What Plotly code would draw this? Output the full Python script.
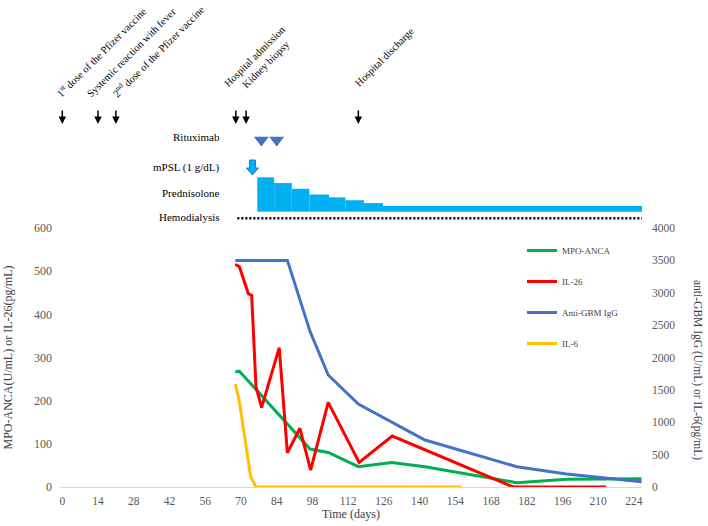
import plotly.graph_objects as go

# ---------------- data ----------------
days_mpo = [67.8, 69.4, 97.1, 104.2, 116.0, 129.1, 142.1, 178.1, 197.6, 227.0]
mpo_anca = [267, 268, 88, 80, 47, 57, 47, 10, 18, 19]

days_il26 = [67.8, 69.4, 72.9, 74.2, 75.9, 78.1, 85.0, 88.2, 93.1, 97.3, 104.2, 116.3, 129.3, 176.7, 213.1]
il26 = [516, 510, 448, 444, 232, 184, 323, 79, 136, 39, 196, 57, 118, 0, 0]

days_gbm = [67.8, 88.2, 97.1, 104.2, 116.0, 142.1, 178.1, 197.6, 227.0]
anti_gbm = [3500, 3500, 2400, 1730, 1280, 726, 314, 200, 82]

days_il6 = [67.8, 69.4, 73.8, 75.9, 156.5]
il6 = [1590, 1320, 160, 0, 0]

event_days = [0, 14, 21, 68, 72, 116]
event_labels = ["1<sup>st</sup> dose of the Pfizer vaccine",
                "Systemic reaction with fever",
                "2<sup>nd</sup> dose of the Pfizer vaccine",
                "Hospital admission",
                "Kidney biopsy",
                "Hospital discharge"]

rituximab_days = [78, 84]
mpsl_day = 74.5
psl_start = [76.4, 83.0, 89.9, 96.8, 104.5, 110.9, 118.2, 125.7]
psl_end = [83.0, 89.9, 96.8, 104.5, 110.9, 118.2, 125.7, 229.2]
psl_dose = [60, 50, 40, 30, 25, 20, 15, 10]
hd_days = [68.6, 229.0]

x_ticks = list(range(0, 225, 14))

# ---------------- layout constants (top panel in px from its bottom) ----------------
TOP_H = 228
ROW_ARROW_TIP = TOP_H - 124
ROW_RTX = TOP_H - 140
ROW_MPSL_TOP = TOP_H - 160
PSL_BASE = TOP_H - 211.7
PSL_SCALE = 0.573
ROW_HD = TOP_H - 218.3
label_bottom = [102, 102, 102, 92, 93, 91]
label_shift = [-12, -16, -9, -17, -9, -8]
row_labels = [("Rituximab", 136.7), ("mPSL (1 g/dL)", 167), ("Prednisolone", 193), ("Hemodialysis", 216.7)]

SERIF = "Liberation Serif"
TICK_C = "#595959"

fig = go.Figure()
fig.add_trace(go.Scatter(x=days_mpo, y=mpo_anca, name="MPO-ANCA", mode="lines",
                         line=dict(color="#00B050", width=3), legendgroup="a", yaxis="y"))
fig.add_trace(go.Scatter(x=days_il26, y=il26, name="IL-26", mode="lines",
                         line=dict(color="#FF0000", width=3), legendgroup="b", yaxis="y"))
fig.add_trace(go.Scatter(x=days_gbm, y=anti_gbm, name="Anti-GBM IgG", mode="lines",
                         line=dict(color="#4472C4", width=3), legendgroup="c", yaxis="y2"))
fig.add_trace(go.Scatter(x=days_il6, y=il6, name="IL-6", mode="lines",
                         line=dict(color="#FFC000", width=3), legendgroup="d", yaxis="y2"))

# top panel
fig.add_trace(go.Bar(x=[(s + e) / 2 for s, e in zip(psl_start, psl_end)],
                     width=[e - s for s, e in zip(psl_start, psl_end)],
                     y=[d * PSL_SCALE for d in psl_dose], base=PSL_BASE,
                     marker=dict(color="#00B0F0", line=dict(width=0)),
                     yaxis="y3", showlegend=False, cliponaxis=False, hoverinfo="skip"))
fig.add_trace(go.Scatter(x=rituximab_days, y=[ROW_RTX] * len(rituximab_days), mode="markers",
                         marker=dict(symbol="triangle-down", size=13, color="#4472C4"),
                         yaxis="y3", showlegend=False, cliponaxis=False))
fig.add_trace(go.Scatter(x=hd_days, y=[ROW_HD] * 2, mode="lines",
                         line=dict(color="black", width=2.5, dash="2px,2px"),
                         yaxis="y3", showlegend=False, cliponaxis=False))

fig.add_shape(type="path", xref="x", yref="y3", xsizemode="pixel", ysizemode="pixel",
              xanchor=mpsl_day, yanchor=ROW_MPSL_TOP,
              path="M-3,0 L3,0 L3,-8 L6,-8 L0,-15 L-6,-8 L-3,-8 Z",
              fillcolor="#00B0F0", line=dict(color="#2E75B6", width=1))

for d, lab, lb, sh in zip(event_days, event_labels, label_bottom, label_shift):
    fig.add_annotation(x=d, y=ROW_ARROW_TIP, xref="x", yref="y3", text="", showarrow=True,
                       ax=0, ay=-15, arrowhead=2, arrowsize=1, arrowwidth=1.5, arrowcolor="black")
    fig.add_annotation(x=d, y=TOP_H - lb, xref="x", yref="y3", text=lab, showarrow=False,
                       textangle=-45, xanchor="left", yanchor="bottom", xshift=sh,
                       font=dict(family=SERIF, size=10.5, color="black"))

for txt, ypx in row_labels:
    fig.add_annotation(x=(222 - 60) / 582, y=TOP_H - ypx, xref="paper", yref="y3", text=txt,
                       showarrow=False, xanchor="right", yanchor="middle",
                       font=dict(family=SERIF, size=11, color="black"))

fig.add_annotation(x=(698 - 60) / 582, y=(487 - 370) / 487, xref="paper", yref="paper",
                   text="anti-GBM IgG (U/mL) or IL-6(pg/mL)", textangle=90, showarrow=False,
                   xanchor="center", yanchor="middle",
                   font=dict(family=SERIF, size=11.5, color="#404040"))

dom_top = 259 / 487
fig.update_layout(
    width=708, height=526,
    margin=dict(l=60, r=66, t=0, b=39, autoexpand=False),
    paper_bgcolor="white", plot_bgcolor="white",
    font=dict(family=SERIF, color="black"),
    barmode="overlay",
    legend=dict(x=(522 - 60) / 582, xanchor="left", y=(487 - 236) / 487, yanchor="top",
                font=dict(family=SERIF, size=9, color="#404040"), tracegroupgap=12,
                bgcolor="rgba(0,0,0,0)"),
    xaxis=dict(range=[-0.9, 227.15], tickvals=x_ticks, showline=True, linecolor="#D9D9D9",
               linewidth=1, showgrid=False, zeroline=False, ticks="", anchor="y",
               ticklabelstandoff=3, automargin=False,
               tickfont=dict(family=SERIF, size=11.5, color=TICK_C),
               title=dict(text="Time (days)", font=dict(family=SERIF, size=12, color="#404040"), standoff=2)),
    yaxis=dict(domain=[0, dom_top], range=[0, 600], dtick=100, showgrid=False, zeroline=False,
               ticks="", anchor="x", ticklabelstandoff=7, automargin=False,
               tickfont=dict(family=SERIF, size=12, color=TICK_C),
               title=dict(text="MPO-ANCA(U/mL) or IL-26(pg/mL)",
                          font=dict(family=SERIF, size=12, color="#404040"), standoff=18)),
    yaxis2=dict(overlaying="y", side="right", range=[0, 4000], dtick=500, showgrid=False,
                zeroline=False, ticks="", anchor="x", ticklabelstandoff=9, automargin=False,
                tickfont=dict(family=SERIF, size=11.5, color=TICK_C)),
    yaxis3=dict(domain=[dom_top, 1], range=[0, TOP_H], visible=False, anchor="x",
                fixedrange=True, automargin=False),
)

fig.write_html("out.html", config={"displayModeBar": False},
               post_script="document.body.style.margin='0';")
